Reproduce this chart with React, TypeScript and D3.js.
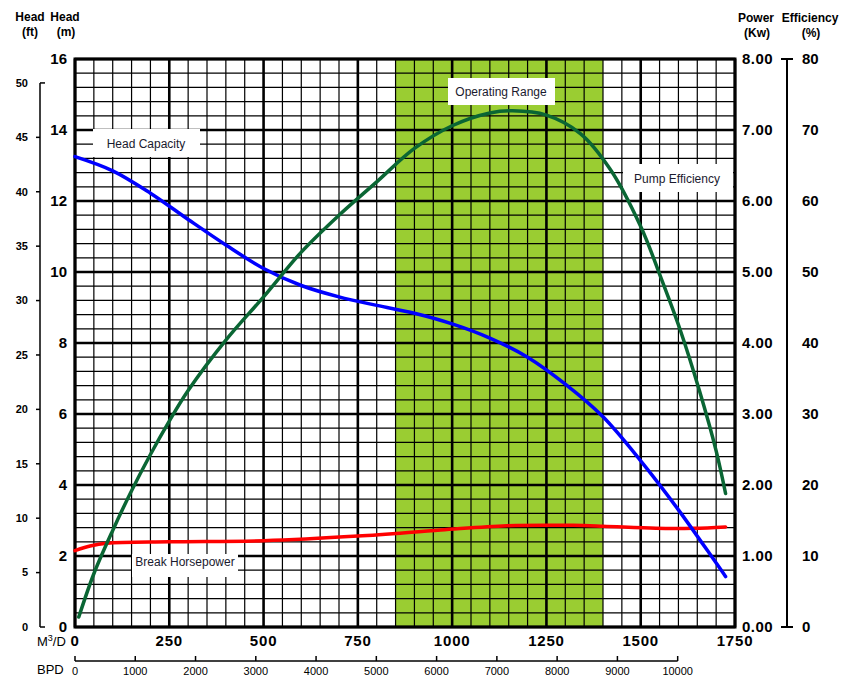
import React from "react";
import * as d3 from "d3";

// ---- data ----
const Q_TICKS = [0, 250, 500, 750, 1000, 1250, 1500, 1750];
const BPD_TICKS = [0, 1000, 2000, 3000, 4000, 5000, 6000, 7000, 8000, 9000, 10000];
const M_TICKS = [0, 2, 4, 6, 8, 10, 12, 14, 16];
const FT_TICKS = [0, 5, 10, 15, 20, 25, 30, 35, 40, 45, 50];
const KW_TICKS = ["0.00", "1.00", "2.00", "3.00", "4.00", "5.00", "6.00", "7.00", "8.00"];
const EFF_TICKS = [0, 10, 20, 30, 40, 50, 60, 70, 80];
const OPERATING_RANGE = [850, 1400];

const Q_HEAD = [0, 100, 200, 300, 400, 500, 600, 700, 800, 900, 1000, 1100, 1200, 1300, 1400, 1500, 1600, 1725];
const HEAD_M = [13.25, 12.85, 12.22, 11.48, 10.76, 10.1, 9.62, 9.3, 9.06, 8.84, 8.54, 8.14, 7.6, 6.84, 5.92, 4.68, 3.3, 1.42];

const Q_EFF = [10, 50, 100, 150, 200, 250, 300, 400, 500, 600, 700, 800, 900, 1000, 1100, 1160, 1250, 1340, 1420, 1500, 1555, 1605, 1655, 1700, 1725];
const EFF = [1.4, 7.5, 13.6, 19.2, 24.3, 29.0, 33.3, 40.4, 46.5, 52.8, 58.0, 62.7, 67.4, 70.6, 72.4, 72.7, 72.1, 69.5, 64.4, 56.4, 49.0, 41.8, 33.4, 24.8, 18.8];

const Q_BHP = [0, 40, 85, 250, 500, 750, 970, 1145, 1320, 1400, 1540, 1640, 1725];
const BHP = [1.075, 1.14, 1.18, 1.2, 1.215, 1.28, 1.366, 1.427, 1.432, 1.42, 1.39, 1.39, 1.41];

const M3_PER_KBBL = 159.8;

export default function App() {
  const W = 849, H = 686;
  const L = 75, R = 735, T = 59, B = 627;
  const x = d3.scaleLinear().domain([0, 1750]).range([L, R]);
  const yM = d3.scaleLinear().domain([0, 16]).range([B, T]);
  const yFt = d3.scaleLinear().domain([0, 52.2]).range([B, T]);
  const yKw = d3.scaleLinear().domain([0, 8]).range([B, T]);
  const yEff = d3.scaleLinear().domain([0, 80]).range([B, T]);
  const xB = d3.scaleLinear().domain([0, 10000]).range([x(0), x(M3_PER_KBBL * 10)]);

  const minorQ = d3.range(0, 1751, 50).filter((v) => v % 250 !== 0);
  const minorM = d3.range(0, 16.01, 0.4).filter((v) => Math.abs(v / 2 - Math.round(v / 2)) > 0.01);

  const curve = d3.curveCatmullRom.alpha(0.5);
  const headLine = d3.line<number>().x((_, i) => x(Q_HEAD[i])).y((d) => yM(d)).curve(curve);
  const effLine = d3.line<number>().x((_, i) => x(Q_EFF[i])).y((d) => yEff(d)).curve(curve);
  const bhpLine = d3.line<number>().x((_, i) => x(Q_BHP[i])).y((d) => yKw(d)).curve(curve);

  const font = "Liberation Sans, Arial, sans-serif";

  const labelBox = (x0: number, y0: number, x1: number, y1: number, text: string, tx: number, ty: number) => (
    <g>
      <rect x={x0} y={y0} width={x1 - x0} height={y1 - y0} fill="#fff" />
      <text x={tx} y={ty} textAnchor="middle" fontSize={12} fill="#1a1a2e" fontFamily={font}>{text}</text>
    </g>
  );

  return (
    <svg width={W} height={H} style={{ position: "absolute", left: 0, top: 0, background: "#fff" }} fontFamily={font}>
      <rect x={0} y={0} width={W} height={H} fill="#fff" />
      {/* operating range */}
      <rect x={x(OPERATING_RANGE[0])} y={T} width={x(OPERATING_RANGE[1]) - x(OPERATING_RANGE[0])} height={B - T} fill="#9ACD32" />
      {/* minor grid */}
      {minorQ.map((q) => (
        <line key={"vq" + q} x1={x(q)} x2={x(q)} y1={T} y2={B} stroke="#000" strokeWidth={1.2} />
      ))}
      {minorM.map((m) => (
        <line key={"hm" + m} x1={L} x2={R} y1={yM(m)} y2={yM(m)} stroke="#000" strokeWidth={1.2} />
      ))}
      {/* major grid */}
      {Q_TICKS.map((q) => (
        <line key={"VQ" + q} x1={x(q)} x2={x(q)} y1={T} y2={B} stroke="#000" strokeWidth={2.6} />
      ))}
      {M_TICKS.map((m) => (
        <line key={"HM" + m} x1={L} x2={R} y1={yM(m)} y2={yM(m)} stroke="#000" strokeWidth={2.6} />
      ))}
      <rect x={L} y={T} width={R - L} height={B - T} fill="none" stroke="#000" strokeWidth={3} />

      {/* label boxes */}
      {labelBox(93, 129, 200, 157, "Head Capacity", 146, 148)}
      {labelBox(448, 78, 555, 105, "Operating Range", 501, 96)}
      {labelBox(623, 164, 733, 192, "Pump Efficiency", 677, 183)}
      {labelBox(132, 554, 238, 577, "Break Horsepower", 185, 566)}

      {/* curves */}
      <path d={bhpLine(BHP) || ""} fill="none" stroke="#ff0000" strokeWidth={3.5} strokeLinecap="round" />
      <path d={headLine(HEAD_M) || ""} fill="none" stroke="#0000ff" strokeWidth={3.5} strokeLinecap="round" />
      <path d={effLine(EFF) || ""} fill="none" stroke="#0a6634" strokeWidth={3.5} strokeLinecap="round" />

      {/* left ft axis */}
      <line x1={40} x2={40} y1={yFt(50)} y2={B} stroke="#000" strokeWidth={1.5} />
      {FT_TICKS.map((f) => {
        const end = f === 0 || f === 50;
        return (
          <g key={"ft" + f}>
            <line x1={end ? 40 : 36} x2={end ? 45 : 40} y1={yFt(f)} y2={yFt(f)} stroke="#000" strokeWidth={1.5} />
            <text x={28} y={yFt(f)} dy="0.35em" textAnchor="end" fontSize={11} fontWeight="bold">{f}</text>
          </g>
        );
      })}
      {/* meter labels */}
      {M_TICKS.map((m) => (
        <text key={"m" + m} x={67} y={yM(m)} dy="0.3em" textAnchor="end" fontSize={15} fontWeight="bold">{m}</text>
      ))}
      {/* power labels */}
      {KW_TICKS.map((k, i) => (
        <text key={"kw" + k} x={742} y={yKw(i)} dy="0.3em" textAnchor="start" fontSize={15} fontWeight="bold" letterSpacing={0.5}>{k}</text>
      ))}
      {/* efficiency axis */}
      <line x1={787} x2={787} y1={T} y2={B} stroke="#000" strokeWidth={2} />
      <line x1={781} x2={793} y1={T} y2={T} stroke="#000" strokeWidth={2} />
      <line x1={781} x2={793} y1={B} y2={B} stroke="#000" strokeWidth={2} />
      {EFF_TICKS.map((e) => (
        <text key={"e" + e} x={802} y={yEff(e)} dy="0.3em" textAnchor="start" fontSize={15} fontWeight="bold">{e}</text>
      ))}

      {/* headers */}
      <g fontSize={12} fontWeight="bold" textAnchor="middle">
        <text x={30} y={21}>Head</text>
        <text x={30} y={36}>(ft)</text>
        <text x={65} y={21}>Head</text>
        <text x={66} y={36}>(m)</text>
        <text x={756} y={22}>Power</text>
        <text x={757} y={37}>(Kw)</text>
        <text x={810} y={22}>Efficiency</text>
        <text x={811} y={37}>(%)</text>
      </g>

      {/* bottom m3/d axis labels */}
      {Q_TICKS.map((q) => (
        <text key={"q" + q} x={x(q)} y={641} dy="0.35em" textAnchor="middle" fontSize={15} fontWeight="bold" letterSpacing={0.8}>{q}</text>
      ))}
      <text x={37} y={646} fontSize={13}>
        M<tspan dy={-5} fontSize={9}>3</tspan><tspan dy={5}>/D</tspan>
      </text>

      {/* BPD axis */}
      <line x1={xB(0)} x2={xB(10000)} y1={661} y2={661} stroke="#000" strokeWidth={1.5} />
      {BPD_TICKS.map((b) => (
        <g key={"b" + b}>
          <line x1={xB(b)} x2={xB(b)} y1={656} y2={661} stroke="#000" strokeWidth={1.5} />
          <text x={xB(b)} y={671} dy="0.35em" textAnchor="middle" fontSize={11}>{b}</text>
        </g>
      ))}
      <text x={37} y={674} fontSize={13}>BPD</text>
    </svg>
  );
}
